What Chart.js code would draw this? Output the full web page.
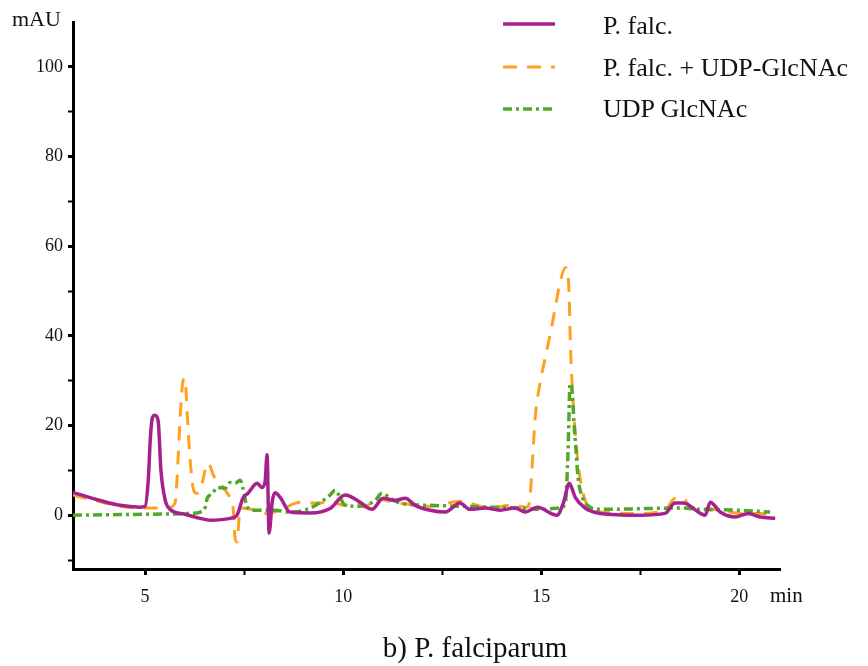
<!DOCTYPE html>
<html>
<head>
<meta charset="utf-8">
<script src="https://cdn.jsdelivr.net/npm/chart.js@4.4.1/dist/chart.umd.min.js"></script>
<style>
body { margin: 0; background: #fff; }
#wrap { position: relative; width: 868px; height: 666px; font-family: "Liberation Serif", serif; color: #111; }
#c { position: absolute; left: 0; top: 0; }
.txt { position: absolute; white-space: nowrap; line-height: 1; }
#legendLines { position: absolute; left: 0; top: 0; }
</style>
</head>
<body>
<div id="wrap">
	<canvas id="c" width="868" height="666"></canvas>
	<svg id="legendLines" width="868" height="140"></svg>
	<div class="txt" style="left:12px; top:8px; font-size:22px;">mAU</div>
	<div class="txt" style="left:770px; top:585px; font-size:21px;">min</div>
	<div class="txt" id="caption" style="left:0; width:950px; text-align:center; top:633px; font-size:29px;">b) P. falciparum</div>
	<div id="legend"></div>
</div>
<script>

// retention time (min) / absorbance (mAU)
const falcT = [3.18, 3.86, 4.37, 4.87, 5.0, 5.08, 5.13, 5.18, 5.25, 5.33, 5.40, 5.51, 5.63, 6.01, 6.39, 6.64, 7.15, 7.32, 7.47, 7.6,
	7.83, 7.95, 8.03, 8.08, 8.13, 8.21, 8.28, 8.41, 8.66, 9.17, 9.67, 10.05, 10.18, 10.43, 10.73, 11.01, 11.31, 11.57, 11.82, 12.2,
	12.58, 12.95, 13.2, 13.59, 13.96, 14.34, 14.6, 14.9, 15.4, 15.56, 15.71, 15.86, 16.11, 16.49, 17.5, 18.13, 18.38, 18.59, 19.02, 19.14,
	19.27, 19.52, 19.9, 20.23, 20.53, 20.91];
const falcV = [5.1, 3.3, 2.2, 1.8, 2.0, 7.8, 16.7, 21.6, 22.3, 21, 10, 3.3, 1.3, 0.2, -0.7, -1.1, -0.7, 0, 3.8, 4.9,
	7.1, 6.2, 7.5, 13.5, -4, 3, 5, 4, 0.7, 0.5, 1.5, 4.5, 4.2, 2.9, 1.3, 3.8, 3.3, 3.8, 2.2, 1.1,
	0.7, 2.7, 1.3, 1.6, 1.1, 1.6, 0.7, 1.8, 0, 2.7, 7.1, 4, 1.6, 0.4, 0, 0.4, 2.7, 2.7, 0.4, 0,
	2.9, 0.7, -0.4, 0.4, -0.4, -0.7];

const plusT = [3.18, 3.86, 4.37, 4.87, 5.38, 5.63, 5.76, 5.83, 5.88, 5.96, 6.01, 6.06, 6.14, 6.21, 6.29, 6.39, 6.46, 6.57, 6.64, 6.72,
	6.89, 7.15, 7.22, 7.27, 7.32, 7.4, 7.78, 8.03, 8.41, 8.91, 9.29, 9.67, 10.05, 10.3, 10.56, 10.81, 11.06, 11.44, 12.2, 12.95,
	13.71, 14.22, 14.65, 14.72, 14.77, 14.85, 14.97, 15.1, 15.23, 15.35, 15.48, 15.61, 15.66, 15.71, 15.73, 15.78, 15.86, 15.93, 16.04, 16.19,
	16.49, 17.5, 18.13, 18.38, 18.59, 18.76, 19.02, 19.52, 20.03, 20.53, 20.78];
const plusV = [4.5, 3.0, 2.0, 1.6, 1.6, 1.8, 2.9, 12, 21, 30, 30.5, 23, 12, 6.2, 4.9, 5.6, 7.8, 11.6, 11, 9,
	7.1, 3.8, 2, -5, -6, 1.6, 1.1, 0.4, 1.1, 2.9, 2.7, 2.9, 2.2, 2.7, 1.8, 3.8, 3.3, 2.7, 2, 3.1,
	1.6, 2.2, 1.8, 4, 10.7, 21.8, 29.4, 35, 40.5, 46, 52, 55.2, 55, 48, 40.5, 29.4, 18.3, 11.6, 5.6, 1.8,
	0.7, 0.4, 1.1, 3.8, 3.8, 1.8, 1.6, 1.1, 0.4, 0.4, 0];

const udpT = [3.18, 5.0, 6.14, 6.39, 6.52, 6.57, 6.64, 6.72, 6.82, 7.02, 7.15, 7.27, 7.4, 7.47, 7.58, 7.78, 8.28, 8.66, 9.17, 9.67,
	9.8, 9.92, 10.05, 10.43, 10.81, 10.98, 11.19, 11.44, 12.2, 12.95, 13.71, 14.47, 14.97, 15.48, 15.61, 15.68, 15.73, 15.78, 15.83, 15.88,
	15.93, 16.04, 16.24, 16.49, 18.51, 19.02, 20.03, 20.78];
const udpV = [0, 0.2, 0.4, 0.7, 1.8, 3.8, 4.5, 5.1, 6.2, 6, 7.3, 7.1, 7.8, 6, 1.8, 1.1, 1.1, 0.7, 1.6, 4.5,
	5.6, 4, 2.2, 2, 3.3, 4.9, 3.8, 2.7, 2.2, 2, 1.8, 1.6, 1.3, 1.6, 2.7, 14.5, 29.4, 27.8, 20.5, 14.5,
	8.5, 4, 1.8, 1.3, 1.6, 1.3, 1.1, 0.7];

const seriesNames = ["P. falc.", "P. falc. + UDP-GlcNAc", "UDP GlcNAc"];

const xTicks = [5, 7.5, 10, 12.5, 15, 17.5, 20];
const xLabels = [5, 10, 15, 20];
const yTicks = [-10, 0, 10, 20, 30, 40, 50, 60, 70, 80, 90, 100];
const yLabels = [0, 20, 40, 60, 80, 100];


const PURPLE = "#a6218e";
const ORANGE = "#ffa020";
const GREEN = "#4fa82a";
const DASH_ORANGE = [14, 10];
const DASH_GREEN = [9, 4, 3, 4];

const tickFont = { family: "'Liberation Serif', serif", size: 18 };

function pairUp(t, v) {
	return t.map((x, i) => ({ x: x, y: v[i] }));
}

// labelled ticks get a heavier mark than the in-between ones
function tickWeight(labels) {
	return (ctx) => (ctx.tick && labels.includes(ctx.tick.value) ? 3 : 2);
}


// LEGEND (drawn over the canvas, top right)

function buildLegend() {
	const svg = document.getElementById("legendLines");
	const legend = document.getElementById("legend");
	const rows = [
		{ color: PURPLE, dash: "", width: 3.5, lineY: 24, textTop: 13 },
		{ color: ORANGE, dash: DASH_ORANGE.join(" "), width: 3, lineY: 67, textTop: 55 },
		{ color: GREEN, dash: DASH_GREEN.join(" "), width: 3.5, lineY: 109, textTop: 96 },
	];
	rows.forEach((r, i) => {
		const line = document.createElementNS("http://www.w3.org/2000/svg", "line");
		line.setAttribute("x1", 503);
		line.setAttribute("x2", 555);
		line.setAttribute("y1", r.lineY);
		line.setAttribute("y2", r.lineY);
		line.setAttribute("stroke", r.color);
		line.setAttribute("stroke-width", r.width);
		if (r.dash) line.setAttribute("stroke-dasharray", r.dash);
		svg.appendChild(line);

		const label = document.createElement("div");
		label.className = "txt";
		label.style.left = "603px";
		label.style.top = r.textTop + "px";
		label.style.fontSize = "26px";
		label.textContent = seriesNames[i];
		legend.appendChild(label);
	});
}
buildLegend();


// CHART

new Chart(document.getElementById("c"), {
	type: "line",
	data: {
		datasets: [
			{
				label: seriesNames[0],
				data: pairUp(falcT, falcV),
				borderColor: PURPLE,
				borderWidth: 3.5,
				order: 0,
			},
			{
				label: seriesNames[2],
				data: pairUp(udpT, udpV),
				borderColor: GREEN,
				borderWidth: 3.5,
				borderDash: DASH_GREEN,
				order: 1,
			},
			{
				label: seriesNames[1],
				data: pairUp(plusT, plusV),
				borderColor: ORANGE,
				borderWidth: 3,
				borderDash: DASH_ORANGE,
				order: 2,
			},
		],
	},
	options: {
		responsive: false,
		animation: false,
		layout: { padding: { top: 22, right: 88, left: 0, bottom: 0 } },
		elements: {
			point: { radius: 0 },
			line: { cubicInterpolationMode: "monotone", fill: false, borderJoinStyle: "round" },
		},
		plugins: {
			legend: { display: false },
			tooltip: { enabled: false },
		},
		scales: {
			x: {
				type: "linear",
				min: 3.18,
				max: 21.03,
				afterBuildTicks: (s) => { s.ticks = xTicks.map((v) => ({ value: v })); },
				afterFit: (s) => { s.height = 97; },
				ticks: {
					callback: (v) => (xLabels.includes(v) ? String(v) : ""),
					font: tickFont,
					color: "#111",
					padding: 11,
					maxRotation: 0,
					autoSkip: false,
				},
				grid: { drawOnChartArea: false, tickLength: 6, tickWidth: tickWeight(xLabels), tickColor: "#000" },
				border: { color: "#000", width: 3 },
			},
			y: {
				type: "linear",
				min: -12,
				max: 110,
				afterBuildTicks: (s) => { s.ticks = yTicks.map((v) => ({ value: v })); },
				afterFit: (s) => { s.width = 73; },
				ticks: {
					callback: (v) => (yLabels.includes(v) ? String(v) : ""),
					font: tickFont,
					color: "#111",
					padding: 5,
					autoSkip: false,
				},
				grid: { drawOnChartArea: false, tickLength: 5, tickWidth: tickWeight(yLabels), tickColor: "#000" },
				border: { color: "#000", width: 3 },
			},
		},
	},
});
</script>
</body>
</html>
